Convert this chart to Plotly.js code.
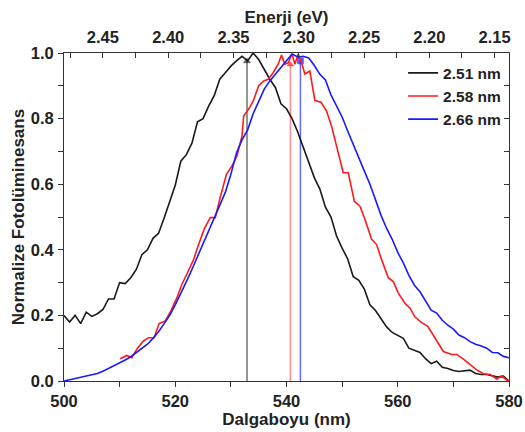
<!DOCTYPE html>
<html>
<head>
<meta charset="utf-8">
<script src="https://cdn.plot.ly/plotly-3.0.1.min.js"></script>
<style>html,body{margin:0;padding:0;background:#fff;}#chart{width:525px;height:432px;}</style>
</head>
<body>
<div id="chart"></div>
<script>
// ---- data ----
const seriesNames = ['2.51 nm', '2.58 nm', '2.66 nm'];
const seriesColors = ['#1a1a1a', '#ff1a1a', '#1a1aff'];

const wlBlack = [500,501,502,503,504,505,506,507,508,509,510,511,512,513,514,515,516,517,518,519,520,521,522,523,524,525,526,527,528,529,530,531,532,533,534,535,536,537,538,539,540,541,542,543,544,545,546,547,548,549,550,551,552,553,554,555,556,557,558,559,560,561,562,563,564,565,566,567,568,569,570,571,572,573,574,575,576,577,578,579,580];
const plBlack = [0.20,0.18,0.20,0.175,0.21,0.197,0.205,0.218,0.25,0.25,0.30,0.297,0.315,0.34,0.385,0.40,0.435,0.45,0.497,0.545,0.597,0.67,0.69,0.725,0.79,0.80,0.838,0.87,0.92,0.94,0.96,0.976,0.99,0.976,1.0,0.98,0.95,0.92,0.895,0.845,0.83,0.80,0.76,0.715,0.666,0.62,0.585,0.53,0.50,0.442,0.405,0.372,0.318,0.307,0.28,0.232,0.215,0.19,0.165,0.148,0.138,0.13,0.10,0.094,0.087,0.068,0.053,0.06,0.042,0.038,0.032,0.029,0.03,0.033,0.023,0.02,0.02,0.015,0.012,0.015,0.0];

const wlRed = [510.1,511.3,512.2,513.2,514.3,515.2,516.2,517.1,518.2,519.2,520.3,521.2,522.2,523.3,524.2,525.2,526.3,527.2,528.0,529.2,530.2,531.1,532.0,532.3,533.2,534.0,535.0,535.9,536.7,537.6,538.5,539.1,539.7,540.3,541.0,541.5,542.1,542.7,543.3,544.2,545.1,546.2,547.2,548.1,549.0,550.2,551.1,552.2,553.2,554.1,555.3,556.2,557.1,558.3,559.2,560.1,561.3,562.2,563.1,564.3,565.4,566.6,568.2,569.7,570.6,571.8,573.0,574.2,575.4,576.6,577.8,578.7,579.6,580.0];
const plRed = [0.068,0.078,0.071,0.10,0.122,0.132,0.132,0.175,0.183,0.213,0.254,0.295,0.33,0.37,0.416,0.463,0.498,0.498,0.554,0.63,0.656,0.686,0.747,0.808,0.829,0.853,0.90,0.915,0.92,0.94,0.966,0.994,0.966,0.97,0.997,0.966,0.997,0.97,0.936,0.945,0.855,0.85,0.823,0.777,0.716,0.635,0.635,0.548,0.533,0.493,0.432,0.416,0.37,0.315,0.303,0.268,0.237,0.222,0.195,0.178,0.167,0.135,0.09,0.081,0.081,0.067,0.05,0.034,0.022,0.02,0.006,0.015,0.003,0.0];

const wlBlue = [500,501,502,503,504,505,506,507,508,509,510,511,512,513,514,515,516,517,518,519,520,521,522,523,524,525,526,527,528,529,530,531,532,533,534,535,536,537,538,539,540,541,542,543,544,545,546,547,548,549,550,551,552,553,554,555,556,557,558,559,560,561,562,563,564,565,566,567,568,569,570,571,572,573,574,575,576,577,578,579,580];
const plBlue = [0.0,0.004,0.009,0.013,0.017,0.02,0.023,0.03,0.038,0.047,0.055,0.064,0.074,0.087,0.10,0.112,0.13,0.15,0.175,0.20,0.232,0.265,0.303,0.34,0.38,0.415,0.455,0.495,0.54,0.575,0.63,0.695,0.735,0.765,0.815,0.85,0.89,0.915,0.935,0.958,0.976,0.997,0.988,0.99,0.985,0.962,0.935,0.918,0.872,0.84,0.805,0.762,0.72,0.68,0.64,0.60,0.552,0.505,0.465,0.432,0.392,0.36,0.322,0.292,0.272,0.245,0.216,0.207,0.185,0.17,0.158,0.14,0.132,0.12,0.112,0.107,0.10,0.087,0.086,0.075,0.071];

// peak marker lines (wavelength of peak, height of marker)
const peakWl = [532.9, 540.7, 542.5];
const peakTop = [0.975, 0.965, 0.976];
const peakColors = ['rgba(0,0,0,0.55)', 'rgba(255,0,0,0.45)', 'rgba(0,0,255,0.6)'];
const peakSymbols = ['triangle-up', 'triangle-up', 'square'];

// top energy axis
const energyTicks = [2.45, 2.40, 2.35, 2.30, 2.25, 2.20, 2.15];
const energyRange = [2.4798, 2.139];

// ---- traces ----
const FONT = 'Liberation Sans, Arial, Helvetica, sans-serif';
const curves = [[wlBlack, plBlack], [wlRed, plRed], [wlBlue, plBlue]];
const traces = [];
peakWl.forEach((w, i) => {
  traces.push({
    x: [w, w], y: [0, peakTop[i]], mode: 'lines+markers', type: 'scatter',
    line: {color: peakColors[i], width: 1.5},
    marker: {size: [0, 6], symbol: peakSymbols[i], color: peakColors[i].replace(/0\.\d+\)/, '0.9)')},
    showlegend: false, hoverinfo: 'skip', cliponaxis: false
  });
});
curves.forEach((c, i) => {
  traces.push({
    x: c[0], y: c[1], mode: 'lines', type: 'scatter', name: seriesNames[i],
    line: {color: seriesColors[i], width: 1.6}
  });
});
// invisible traces anchoring the secondary axes
traces.push({x: energyTicks, y: energyTicks.map(() => null), xaxis: 'x2', yaxis: 'y', mode: 'lines', showlegend: false, hoverinfo: 'skip'});
traces.push({x: [500, 580], y: [null, null], xaxis: 'x', yaxis: 'y2', mode: 'lines', showlegend: false, hoverinfo: 'skip'});

const tickFont = {family: FONT, size: 16.5, color: '#222', weight: 'bold'};
const titleFont = {family: FONT, size: 17, color: '#222', weight: 'bold'};

const layout = {
  width: 525, height: 432,
  margin: {l: 64, r: 16, t: 53, b: 51},
  paper_bgcolor: '#fff', plot_bgcolor: '#fff',
  showlegend: true,
  legend: {x: 0.762, y: 0.99, xanchor: 'left', yanchor: 'top', bgcolor: 'rgba(0,0,0,0)',
           font: {family: FONT, size: 15.5, color: '#222', weight: 'bold'}, tracegroupgap: 0},
  xaxis: {
    range: [500, 580], showgrid: false, zeroline: false,
    showline: true, linecolor: '#333', linewidth: 1,
    ticks: 'outside', ticklen: 5, tickcolor: '#333', dtick: 20, tick0: 500,
    minor: {dtick: 10, ticks: 'outside', ticklen: 5, tickcolor: '#333'},
    tickfont: tickFont,
    title: {text: 'Dalgaboyu (nm)', font: titleFont, standoff: 0}
  },
  xaxis2: {
    overlaying: 'x', side: 'top', anchor: 'y', range: energyRange, autorange: false,
    showgrid: false, zeroline: false, showline: true, linecolor: '#333', linewidth: 1,
    ticks: 'inside', ticklen: 5, tickcolor: '#333', tickvals: energyTicks, tickformat: '.2f',
    minor: {dtick: 0.025, tick0: 2.15, ticks: 'inside', ticklen: 5, tickcolor: '#333'},
    tickfont: tickFont, ticklabelstandoff: 2,
    title: {text: 'Enerji (eV)', font: titleFont, standoff: 0}
  },
  yaxis: {
    range: [0, 1.0], showgrid: false, zeroline: false,
    showline: true, linecolor: '#333', linewidth: 1,
    ticks: 'outside', ticklen: 5, tickcolor: '#333', dtick: 0.2, tickformat: '.1f',
    minor: {dtick: 0.1, ticks: 'outside', ticklen: 5, tickcolor: '#333'},
    tickfont: tickFont, ticklabelstandoff: 1,
    title: {text: 'Normalize Fotolüminesans', font: titleFont, standoff: 1}
  },
  yaxis2: {
    overlaying: 'y', side: 'right', anchor: 'x', range: [0, 1.0],
    showgrid: false, zeroline: false, showline: true, linecolor: '#333', linewidth: 1,
    ticks: 'inside', ticklen: 5, tickcolor: '#333', dtick: 0.1, showticklabels: false
  }
};

Plotly.newPlot('chart', traces, layout, {displayModeBar: false, staticPlot: true});
</script>
</body>
</html>
